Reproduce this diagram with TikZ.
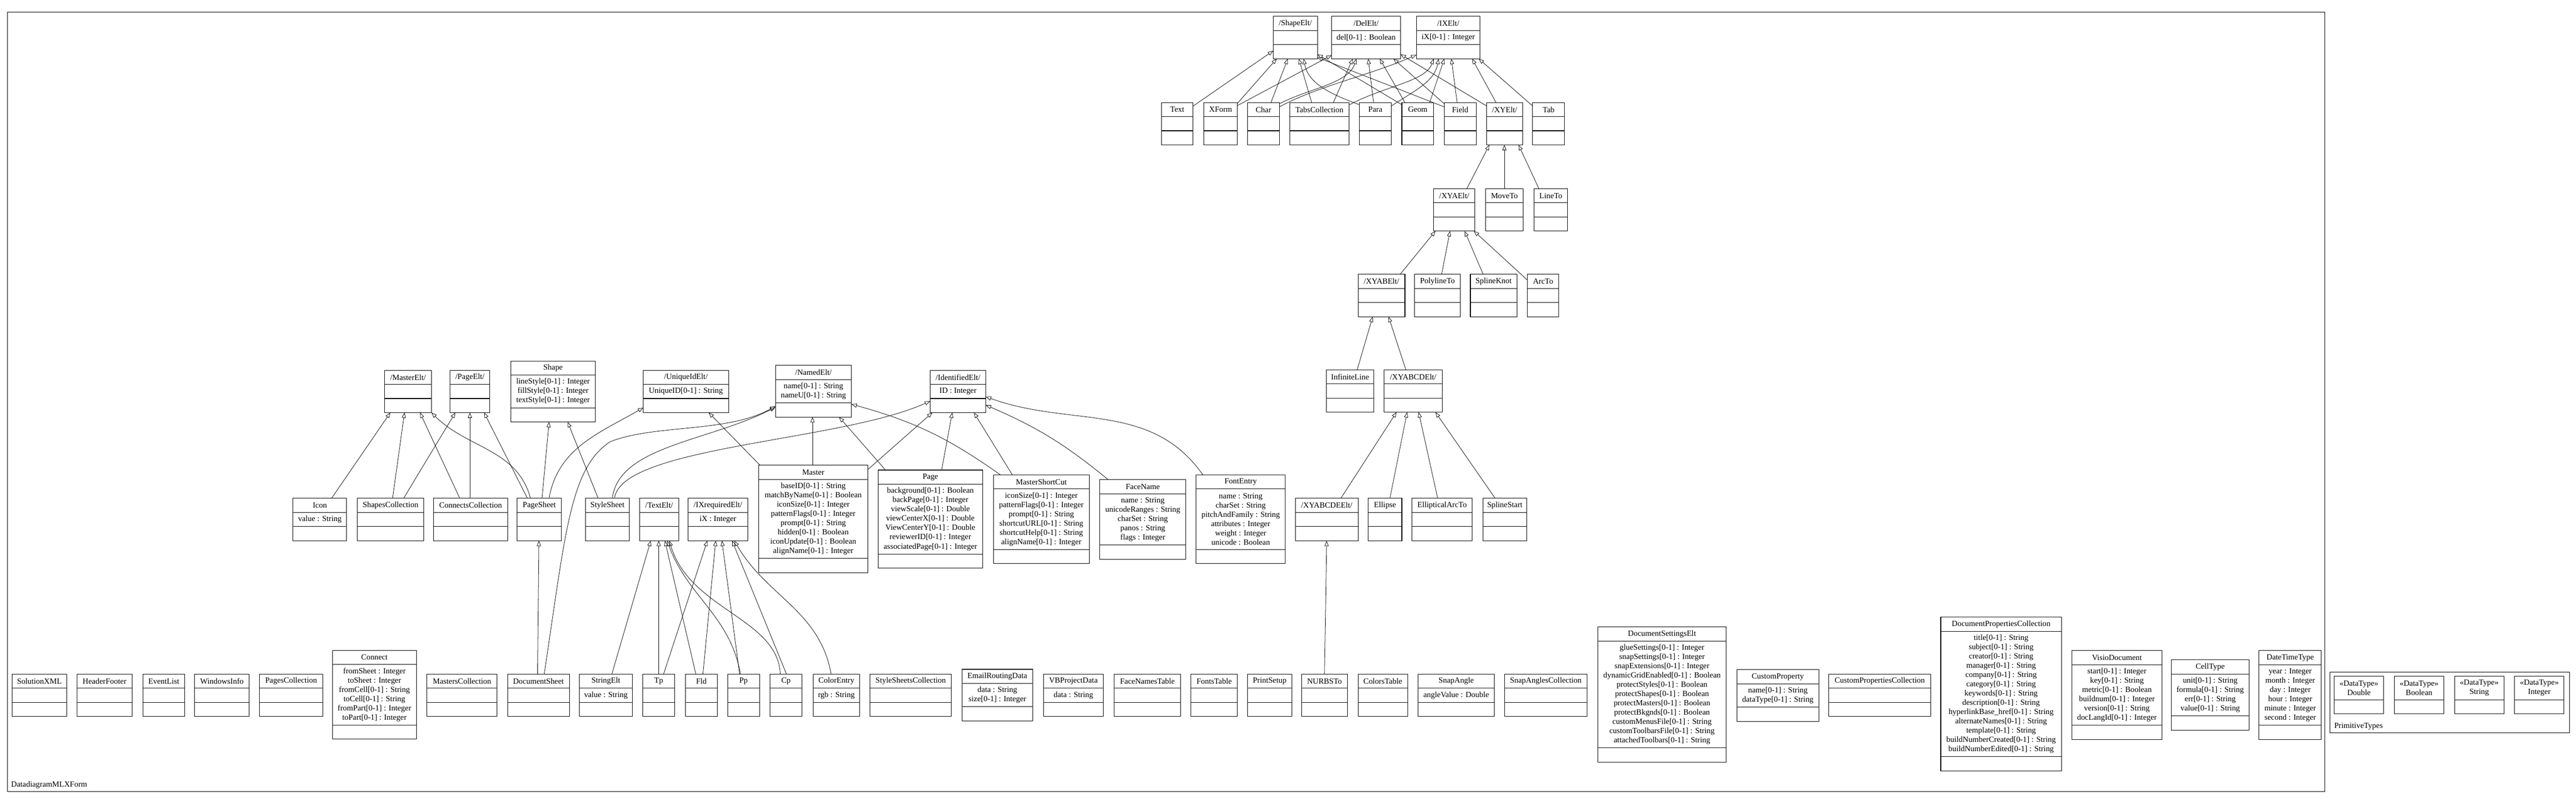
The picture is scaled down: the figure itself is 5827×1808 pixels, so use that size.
\documentclass[tikz,border=0pt]{standalone}
\usepackage{fontspec}
\setmainfont{Liberation Serif}
\usetikzlibrary{arrows.meta}
\tikzset{
  boxline/.style={line width=1.2pt},
  box/.style={draw, line width=1.2pt, inner sep=0pt, outer sep=0pt},
  txt/.style={font=\fontsize{18}{21}\selectfont, inner sep=0pt, align=center},
  gen/.style={line width=0.9pt, -{Triangle[open,length=12pt,width=9pt]}},
}
\newcommand{\umlc}[7]{%
  \pgfmathsetmacro{\umlAH}{ifthenelse(#6==0,32,21*#6+11)}%
  \pgfmathsetmacro{\umlTH}{64+\umlAH}%
  \pgfmathsetmacro{\umlAC}{32+\umlAH/2}%
  \node[box, minimum width=#4pt, minimum height=\umlTH pt, anchor=north west] (#1) at (#2,#3) {};
  \draw[boxline] ([yshift=-32pt]#1.north west) -- ([yshift=-32pt]#1.north east);
  \draw[boxline] ([yshift=32pt]#1.south west) -- ([yshift=32pt]#1.south east);
  \node[txt] (#1-t) at ([yshift=-16pt]#1.north) {#5};
  \node[txt] (#1-a) at ([yshift=-\umlAC pt]#1.north) {#7};
}
\newcommand{\dtype}[3]{%
  \node[box, minimum width=112pt, minimum height=85pt, anchor=north west] (#1) at (#2,1531) {};
  \draw[boxline] ([yshift=32pt]#1.south west) -- ([yshift=32pt]#1.south east);
  \node[txt] (#1-t) at ([yshift=-26.5pt]#1.north) {«DataType»\\#3};
}
\begin{document}
\begin{tikzpicture}[x=1pt,y=-1pt]
\useasboundingbox (0,0) rectangle (5827,1808);
% frames
\node[box, minimum width=5242pt, minimum height=1765pt, anchor=north west] (mainframe) at (17,27) {};
\node[txt, anchor=west] (mainlabel) at (25,1777) {DatadiagramMLXForm};
\node[box, minimum width=541pt, minimum height=138pt, anchor=north west] (primframe) at (5271,1521) {};
\node[txt, anchor=west] (primlabel) at (5280,1644) {PrimitiveTypes};
\dtype{tDouble}{5280}{Double}
\dtype{tBoolean}{5416}{Boolean}
\dtype{tString}{5552}{String}
\dtype{tInteger}{5688}{Integer}
% top cluster
\umlc{ShapeElt}{2880}{37}{100}{/ShapeElt/}{0}{}
\umlc{DelElt}{3012}{37}{156}{/DelElt/}{1}{del[0-1] : Boolean}
\umlc{IXElt}{3204}{37}{144}{/IXElt/}{1}{iX[0-1] : Integer}
\umlc{Text}{2627}{232}{72}{Text}{0}{}
\umlc{XForm}{2723}{232}{76}{XForm}{0}{}
\umlc{Char}{2822}{232}{72}{Char}{0}{}
\umlc{TabsCollection}{2918}{232}{133}{TabsCollection}{0}{}
\umlc{Para}{3075}{232}{72}{Para}{0}{}
\umlc{Geom}{3171}{232}{72}{Geom}{0}{}
\umlc{Field}{3267}{232}{72}{Field}{0}{}
\umlc{XYElt}{3363}{232}{81}{/XYElt/}{0}{}
\umlc{Tab}{3467}{232}{72}{Tab}{0}{}
\umlc{XYAElt}{3243}{427}{93}{/XYAElt/}{0}{}
\umlc{MoveTo}{3360}{427}{86}{MoveTo}{0}{}
\umlc{LineTo}{3470}{427}{76}{LineTo}{0}{}
\umlc{XYABElt}{3072}{621}{106}{/XYABElt/}{0}{}
\umlc{PolylineTo}{3200}{621}{103}{PolylineTo}{0}{}
\umlc{SplineKnot}{3326}{621}{105}{SplineKnot}{0}{}
\umlc{ArcTo}{3455}{621}{71}{ArcTo}{0}{}
\umlc{InfiniteLine}{3000}{837}{108}{InfiniteLine}{0}{}
\umlc{XYABCDElt}{3131}{837}{131}{/XYABCDElt/}{0}{}
\umlc{XYABCDEElt}{2930}{1128}{142}{/XYABCDEElt/}{0}{}
\umlc{Ellipse}{3095}{1128}{76}{Ellipse}{0}{}
\umlc{EllipticalArcTo}{3194}{1128}{136}{EllipticalArcTo}{0}{}
\umlc{SplineStart}{3354}{1128}{100}{SplineStart}{0}{}
% middle cluster
\umlc{MasterElt}{870}{838}{106}{/MasterElt/}{0}{}
\umlc{PageElt}{1018}{838}{90}{/PageElt/}{0}{}
\umlc{Shape}{1155}{817}{192}{Shape}{3}{lineStyle[0-1] : Integer\\fillStyle[0-1] : Integer\\textStyle[0-1] : Integer}
\umlc{UniqueIdElt}{1455}{838}{193}{/UniqueIdElt/}{1}{UniqueID[0-1] : String}
\umlc{NamedElt}{1754}{827}{172}{/NamedElt/}{2}{name[0-1] : String\\nameU[0-1] : String}
\umlc{IdentifiedElt}{2104}{838}{126}{/IdentifiedElt/}{1}{ID : Integer}
\umlc{Icon}{663}{1128}{121}{Icon}{1}{value : String}
\umlc{ShapesCollection}{808}{1128}{151}{ShapesCollection}{0}{}
\umlc{ConnectsCollection}{981}{1128}{167}{ConnectsCollection}{0}{}
\umlc{PageSheet}{1170}{1128}{100}{PageSheet}{0}{}
\umlc{StyleSheet}{1324}{1128}{100}{StyleSheet}{0}{}
\umlc{TextElt}{1447}{1128}{88}{/TextElt/}{0}{}
\umlc{IXrequiredElt}{1556}{1128}{136}{/IXrequiredElt/}{1}{iX : Integer}
\umlc{Master}{1716}{1053}{247}{Master}{8}{baseID[0-1] : String\\matchByName[0-1] : Boolean\\iconSize[0-1] : Integer\\patternFlags[0-1] : Integer\\prompt[0-1] : String\\hidden[0-1] : Boolean\\iconUpdate[0-1] : Boolean\\alignName[0-1] : Integer}
\umlc{Page}{1986}{1064}{237}{Page}{7}{background[0-1] : Boolean\\backPage[0-1] : Integer\\viewScale[0-1] : Double\\viewCenterX[0-1] : Double\\ViewCenterY[0-1] : Double\\reviewerID[0-1] : Integer\\associatedPage[0-1] : Integer}
\umlc{MasterShortCut}{2247}{1075}{217}{MasterShortCut}{6}{iconSize[0-1] : Integer\\patternFlags[0-1] : Integer\\prompt[0-1] : String\\shortcutURL[0-1] : String\\shortcutHelp[0-1] : String\\alignName[0-1] : Integer}
\umlc{FaceName}{2488}{1086}{194}{FaceName}{5}{name : String\\unicodeRanges : String\\charSet : String\\panos : String\\flags : Integer}
\umlc{FontEntry}{2706}{1075}{201}{FontEntry}{6}{name : String\\charSet : String\\pitchAndFamily : String\\attributes : Integer\\weight : Integer\\unicode : Boolean}
% bottom row
\umlc{SolutionXML}{27}{1526}{124}{SolutionXML}{0}{}
\umlc{HeaderFooter}{174}{1526}{125}{HeaderFooter}{0}{}
\umlc{EventList}{323}{1526}{95}{EventList}{0}{}
\umlc{WindowsInfo}{440}{1526}{124}{WindowsInfo}{0}{}
\umlc{PagesCollection}{587}{1526}{143}{PagesCollection}{0}{}
\umlc{Connect}{752}{1472}{190}{Connect}{6}{fromSheet : Integer\\toSheet : Integer\\fromCell[0-1] : String\\toCell[0-1] : String\\fromPart[0-1] : Integer\\toPart[0-1] : Integer}
\umlc{MastersCollection}{966}{1526}{158}{MastersCollection}{0}{}
\umlc{DocumentSheet}{1148}{1526}{140}{DocumentSheet}{0}{}
\umlc{StringElt}{1310}{1526}{121}{StringElt}{1}{value : String}
\umlc{Tp}{1454}{1526}{72}{Tp}{0}{}
\umlc{Fld}{1550}{1526}{73}{Fld}{0}{}
\umlc{Pp}{1646}{1526}{72}{Pp}{0}{}
\umlc{Cp}{1742}{1526}{72}{Cp}{0}{}
\umlc{ColorEntry}{1839}{1526}{106}{ColorEntry}{1}{rgb : String}
\umlc{StyleSheetsCollection}{1968}{1526}{184}{StyleSheetsCollection}{0}{}
\umlc{EmailRoutingData}{2176}{1515}{160}{EmailRoutingData}{2}{data : String\\size[0-1] : Integer}
\umlc{VBProjectData}{2360}{1526}{136}{VBProjectData}{1}{data : String}
\umlc{FaceNamesTable}{2520}{1526}{151}{FaceNamesTable}{0}{}
\umlc{FontsTable}{2694}{1526}{105}{FontsTable}{0}{}
\umlc{PrintSetup}{2822}{1526}{100}{PrintSetup}{0}{}
\umlc{NURBSTo}{2944}{1526}{104}{NURBSTo}{0}{}
\umlc{ColorsTable}{3072}{1526}{112}{ColorsTable}{0}{}
\umlc{SnapAngle}{3208}{1526}{172}{SnapAngle}{1}{angleValue : Double}
\umlc{SnapAnglesCollection}{3403}{1526}{187}{SnapAnglesCollection}{0}{}
\umlc{DocumentSettingsElt}{3614}{1419}{291}{DocumentSettingsElt}{11}{glueSettings[0-1] : Integer\\snapSettings[0-1] : Integer\\snapExtensions[0-1] : Integer\\dynamicGridEnabled[0-1] : Boolean\\protectStyles[0-1] : Boolean\\protectShapes[0-1] : Boolean\\protectMasters[0-1] : Boolean\\protectBkgnds[0-1] : Boolean\\customMenusFile[0-1] : String\\customToolbarsFile[0-1] : String\\attachedToolbars[0-1] : String}
\umlc{CustomProperty}{3929}{1516}{185}{CustomProperty}{2}{name[0-1] : String\\dataType[0-1] : String}
\umlc{CustomPropertiesCollection}{4137}{1526}{230}{CustomPropertiesCollection}{0}{}
\umlc{DocumentPropertiesCollection}{4390}{1397}{273}{DocumentPropertiesCollection}{13}{title[0-1] : String\\subject[0-1] : String\\creator[0-1] : String\\manager[0-1] : String\\company[0-1] : String\\category[0-1] : String\\keywords[0-1] : String\\description[0-1] : String\\hyperlinkBase\_href[0-1] : String\\alternateNames[0-1] : String\\template[0-1] : String\\buildNumberCreated[0-1] : String\\buildNumberEdited[0-1] : String}
\umlc{VisioDocument}{4687}{1473}{203}{VisioDocument}{6}{start[0-1] : Integer\\key[0-1] : String\\metric[0-1] : Boolean\\buildnum[0-1] : Integer\\version[0-1] : String\\docLangId[0-1] : Integer}
\umlc{CellType}{4912}{1494}{175}{CellType}{4}{unit[0-1] : String\\formula[0-1] : String\\err[0-1] : String\\value[0-1] : String}
\umlc{DateTimeType}{5110}{1473}{141}{DateTimeType}{6}{year : Integer\\month : Integer\\day : Integer\\hour : Integer\\minute : Integer\\second : Integer}
% ===== generalizations: top cluster
\draw[gen] ([yshift=-8pt]Text.north east) -- ([yshift=18pt]ShapeElt.south west);
\draw[gen] ([yshift=-2pt]XForm.north east) -- ([xshift=8pt]ShapeElt.south west);
\draw[gen] ([yshift=-7pt]XForm.north east) -- ([yshift=8pt]DelElt.south west);
\draw[gen] ([xshift=53pt]Char.north west) -- ([xshift=33pt]ShapeElt.south west);
\draw[gen] ([yshift=-3pt]Char.north east) .. controls (2960,200) and (3050,190) .. ([xshift=56pt]DelElt.south west);
\draw[gen] ([yshift=-10pt]Char.north east) .. controls (2980,195) and (3100,170) .. ([yshift=9pt]IXElt.south west);
\draw[gen] ([xshift=49pt]TabsCollection.north west) -- ([xshift=58pt]ShapeElt.south west);
\draw[gen] ([xshift=98pt]TabsCollection.north west) -- ([xshift=48pt]DelElt.south west);
\draw[gen] ([yshift=-6pt]TabsCollection.north east) .. controls (3130,195) and (3225,185) .. ([xshift=39pt]IXElt.south west);
\draw[gen] ([yshift=-5pt]Para.north west) .. controls (3000,210) and (2958,185) .. ([xshift=69pt]ShapeElt.south west);
\draw[gen] ([xshift=32pt]Para.north west) -- ([xshift=83pt]DelElt.south west);
\draw[gen] ([yshift=-8pt]Para.north east) .. controls (3200,205) and (3245,185) .. ([xshift=50pt]IXElt.south west);
\draw[gen] ([yshift=-5pt]Geom.north west) -- ([yshift=10pt]ShapeElt.south east);
\draw[gen] ([xshift=7pt]Geom.north west) -- ([xshift=109pt]DelElt.south west);
\draw[gen] ([xshift=63pt]Geom.north west) -- ([xshift=63pt]IXElt.south west);
\draw[gen] ([yshift=-10pt]Field.north west) -- ([yshift=3pt]ShapeElt.south east);
\draw[gen] ([yshift=-3pt]Field.north west) -- ([xshift=140pt]DelElt.south west);
\draw[gen] ([xshift=29pt]Field.north west) -- ([xshift=79pt]IXElt.south west);
\draw[gen] ([yshift=-8pt]XYElt.north west) -- ([yshift=10pt]DelElt.south east);
\draw[gen] ([xshift=21pt]XYElt.north west) -- ([xshift=126pt]IXElt.south west);
\draw[gen] ([yshift=-8pt]Tab.north west) -- ([xshift=141pt]IXElt.south west);
% XY chain
\draw[gen] ([xshift=75pt]XYAElt.north west) -- ([xshift=6pt]XYElt.south west);
\draw[gen] ([xshift=43pt]MoveTo.north west) -- ([xshift=40pt]XYElt.south west);
\draw[gen] ([xshift=11pt]LineTo.north west) -- ([xshift=72pt]XYElt.south west);
\draw[gen] ([xshift=95pt]XYABElt.north west) -- ([xshift=4pt]XYAElt.south west);
\draw[gen] ([xshift=61pt]PolylineTo.north west) -- ([xshift=37pt]XYAElt.south west);
\draw[gen] ([xshift=29pt]SplineKnot.north west) -- ([xshift=70pt]XYAElt.south west);
\draw[gen] ([yshift=-13pt]ArcTo.north west) -- ([xshift=-2pt]XYAElt.south east);
\draw[gen] ([xshift=70pt]InfiniteLine.north west) -- ([xshift=33pt]XYABElt.south west);
\draw[gen] ([xshift=49pt]XYABCDElt.north west) -- ([xshift=69pt]XYABElt.south west);
\draw[gen] ([xshift=103pt]XYABCDEElt.north west) -- ([xshift=28pt]XYABCDElt.south west);
\draw[gen] ([xshift=49pt]Ellipse.north west) -- ([xshift=52pt]XYABCDElt.south west);
\draw[gen] ([xshift=58pt]EllipticalArcTo.north west) -- ([xshift=78pt]XYABCDElt.south west);
\draw[gen] ([xshift=28pt]SplineStart.north west) -- ([xshift=116pt]XYABCDElt.south west);
\draw[gen] ([xshift=52pt]NURBSTo.north west) -- ([xshift=71pt]XYABCDEElt.south west);
% middle-left cluster
\draw[gen] ([xshift=87pt]Icon.north west) -- ([xshift=13pt]MasterElt.south west);
\draw[gen] ([xshift=80pt]ShapesCollection.north west) -- ([xshift=45pt]MasterElt.south west);
\draw[gen] ([xshift=105pt]ShapesCollection.north west) -- ([xshift=12pt]PageElt.south west);
\draw[gen] ([xshift=59pt]ConnectsCollection.north west) -- ([xshift=80pt]MasterElt.south west);
\draw[gen] ([xshift=82pt]ConnectsCollection.north west) -- ([xshift=45pt]PageElt.south west);
\draw[gen] ([xshift=30pt]PageSheet.north west) to[out=105,in=-45] (MasterElt.south east);
\draw[gen] ([xshift=23pt]PageSheet.north west) -- ([xshift=77pt]PageElt.south west);
\draw[gen] ([xshift=56pt]PageSheet.north west) -- ([xshift=87pt]Shape.south west);
\draw[gen] ([xshift=72pt]PageSheet.north west) to[out=80,in=-150] ([yshift=11pt]UniqueIdElt.south west);
\draw[gen] ([xshift=29pt]StyleSheet.north west) -- ([xshift=129pt]Shape.south west);
\draw[gen] ([xshift=61pt]StyleSheet.north west) .. controls (1400,1010) and (1600,1000) .. ([yshift=22pt]NamedElt.south west);
\draw[gen] ([xshift=66pt]StyleSheet.north west) .. controls (1405,1010) and (1900,1000) .. ([yshift=26pt]IdentifiedElt.south west);
\draw[gen] ([xshift=83pt]DocumentSheet.north west) .. controls (1280,1200) and (1290,1060) .. (1380,1000) .. controls (1480,960) and (1650,980) .. ([yshift=25pt]NamedElt.south west);
\draw[gen] ([xshift=68pt]DocumentSheet.north west) -- ([xshift=49pt]PageSheet.south west);
\draw[gen] ([xshift=3pt]Master.north west) -- ([xshift=148pt]UniqueIdElt.south west);
\draw[gen] ([xshift=122pt]Master.north west) -- ([xshift=84pt]NamedElt.south west);
\draw[gen] ([yshift=-10pt]Master.north east) -- ([xshift=5pt]IdentifiedElt.south west);
\draw[gen] ([xshift=17pt]Page.north west) -- ([xshift=144pt]NamedElt.south west);
\draw[gen] ([xshift=144pt]Page.north west) -- ([xshift=50pt]IdentifiedElt.south west);
\draw[gen] ([xshift=16pt]MasterShortCut.north west) to[bend right=10] ([yshift=29pt]NamedElt.south east);
\draw[gen] ([xshift=43pt]MasterShortCut.north west) -- ([xshift=99pt]IdentifiedElt.south west);
\draw[gen] ([xshift=19pt]FaceName.north west) to[bend right=8] ([yshift=17pt]IdentifiedElt.south east);
\draw[gen] ([xshift=15pt]FontEntry.north west) to[out=125,in=-20] ([yshift=36pt]IdentifiedElt.south east);
% text elements
\draw[gen] ([xshift=74pt]StringElt.north west) -- ([xshift=25pt]TextElt.south west);
\draw[gen] ([xshift=36pt]Tp.north west) -- ([xshift=43pt]TextElt.south west);
\draw[gen] ([xshift=47pt]Tp.north west) -- ([xshift=44pt]IXrequiredElt.south west);
\draw[gen] ([xshift=24pt]Fld.north west) -- ([xshift=57pt]TextElt.south west);
\draw[gen] ([xshift=40pt]Fld.north west) -- ([xshift=63pt]IXrequiredElt.south west);
\draw[gen] ([xshift=29pt]Pp.north west) to[out=100,in=-70] ([xshift=62pt]TextElt.south west);
\draw[gen] ([xshift=27pt]Pp.north west) -- ([xshift=77pt]IXrequiredElt.south west);
\draw[gen] ([xshift=23pt]Cp.north west) .. controls (1760,1400) and (1560,1380) .. ([xshift=67pt]TextElt.south west);
\draw[gen] ([xshift=37pt]Cp.north west) -- ([xshift=100pt]IXrequiredElt.south west);
\draw[gen] ([xshift=41pt]ColorEntry.north west) to[out=100,in=-60] ([xshift=105pt]IXrequiredElt.south west);
\end{tikzpicture}
\end{document}
